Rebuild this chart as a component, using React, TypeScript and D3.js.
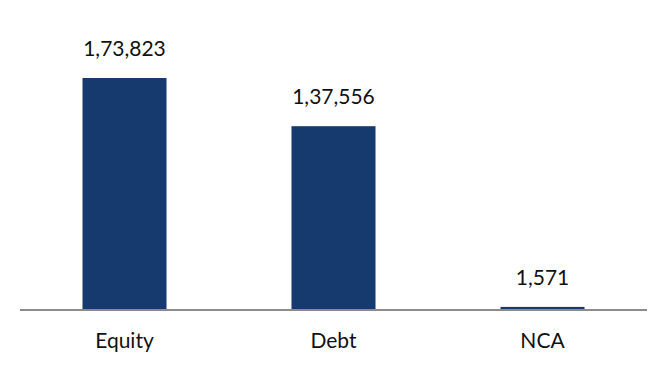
import React from "react";
import * as d3 from "d3";

const categories = ["Equity", "Debt", "NCA"];
const values = [173823, 137556, 1571];
const valueLabels = ["1,73,823", "1,37,556", "1,571"];

const W = 659;
const H = 376;

export default function App() {
  const x = d3
    .scaleBand<string>()
    .domain(categories)
    .range([20, 647])
    .paddingInner(0.598)
    .paddingOuter(0.299);
  const y = d3.scaleLinear().domain([0, 173823]).range([309, 78]);
  const font = "Lato, 'Noto Sans', sans-serif";
  return (
    <svg
      width={W}
      height={H}
      style={{ position: "absolute", left: 0, top: 0, background: "#fff" }}
    >
      {categories.map((c, i) => {
        const bx = x(c)!;
        const top = y(values[i]);
        return (
          <g key={c}>
            <rect
              x={bx}
              y={top}
              width={x.bandwidth()}
              height={y(0) - top}
              fill="#163a6e"
            />
            <text
              x={bx + x.bandwidth() / 2}
              y={top - 22}
              textAnchor="middle"
              fontFamily={font}
              fontSize={21}
              fill="#111"
            >
              {valueLabels[i]}
            </text>
            <text
              x={bx + x.bandwidth() / 2}
              y={348}
              textAnchor="middle"
              fontFamily={font}
              fontSize={21}
              fill="#111"
            >
              {c}
            </text>
          </g>
        );
      })}
      <line x1={20} x2={647} y1={310} y2={310} stroke="#8c8c8c" strokeWidth={2} />
    </svg>
  );
}
